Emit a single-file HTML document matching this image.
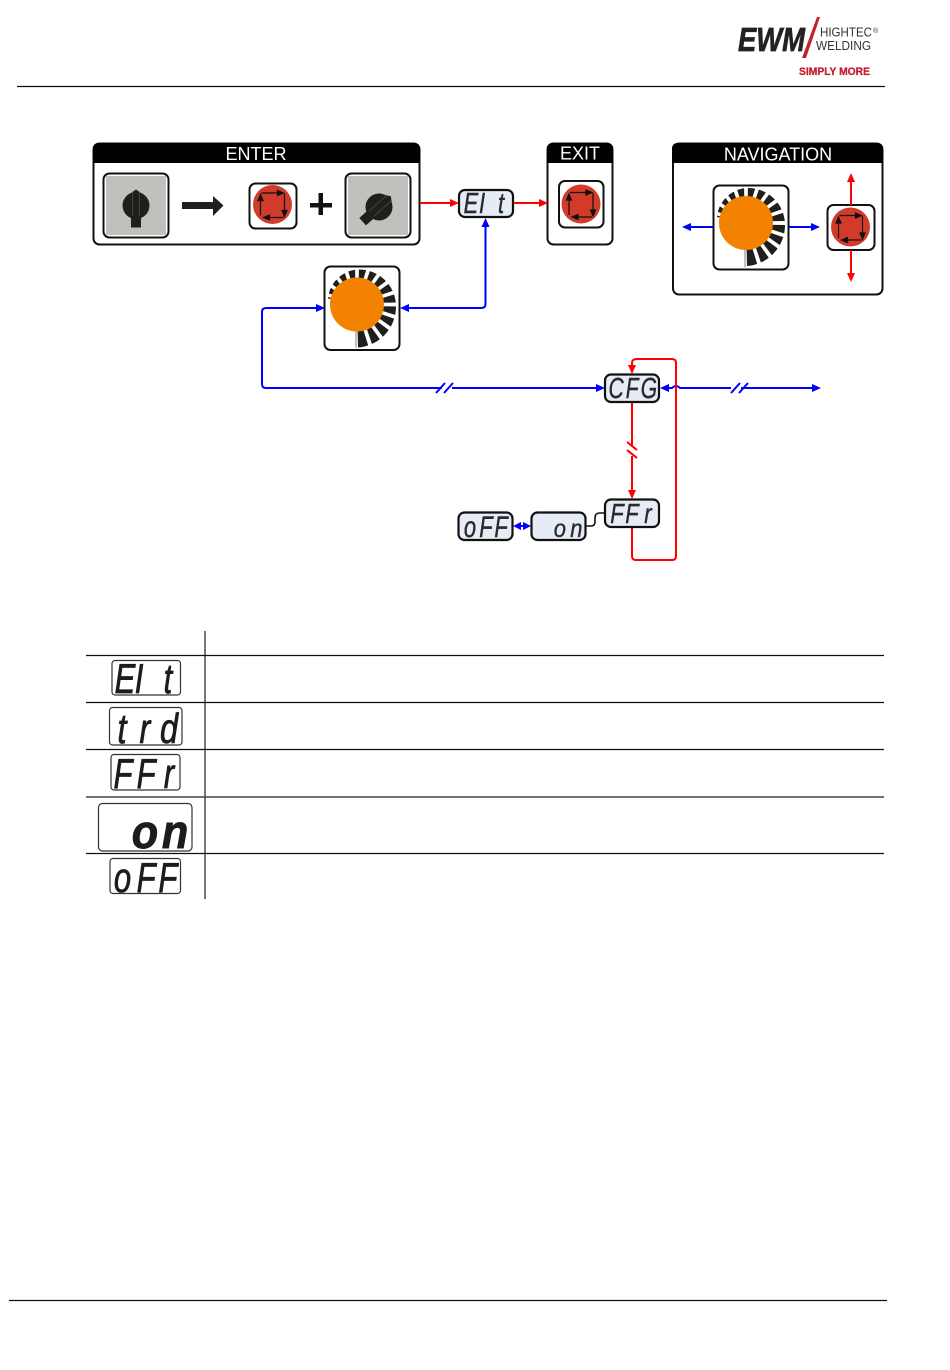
<!DOCTYPE html>
<html lang="en"><head><meta charset="utf-8"><title>Diagram</title>
<style>
html,body{margin:0;padding:0;background:#fff;width:950px;height:1370px;overflow:hidden}
svg{display:block}
text{font-family:"Liberation Sans",sans-serif}
.h{font-size:18px;fill:#fff;text-anchor:middle}
.s{font-style:italic;font-size:20px;fill:#2a2a2a;stroke:#2a2a2a;stroke-width:.3;text-anchor:middle}
.t{font-style:italic;font-size:27px;fill:#1c1c1c;stroke:#1c1c1c;stroke-width:.5;text-anchor:middle}
.d{fill:#e6ecf6;stroke:#111;stroke-width:2.2}
.k{fill:#fff;stroke:#111;stroke-width:2}
.o{fill:none;stroke:#111;stroke-width:2}
.b{fill:none;stroke:#0000ff;stroke-width:2}
.r{fill:none;stroke:#ff0000;stroke-width:2}
.bf{fill:#0000ff}.rf{fill:#ff0000}
</style></head><body>
<svg width="950" height="1370" viewBox="0 0 950 1370" xmlns="http://www.w3.org/2000/svg">
<defs>
<path id="bar" d="M20,-1.700 L50,-2.100 L50,2.100 L20,1.700Z" fill="#fff"/>
<g id="wheel">
<path d="M1,43 A41,41 0 0 0 39,2 A37,37 0 0 0 0,-35 A32,32 0 0 0 -29,-6 L0,0 Z" fill="#211f1c"/>
<use href="#bar"/>
<use href="#bar" transform="rotate(18)"/>
<use href="#bar" transform="rotate(36)"/>
<use href="#bar" transform="rotate(54)"/>
<use href="#bar" transform="rotate(72)"/>
<use href="#bar" transform="rotate(-18)"/>
<use href="#bar" transform="rotate(-36)"/>
<use href="#bar" transform="rotate(-54)"/>
<use href="#bar" transform="rotate(-72)"/>
<use href="#bar" transform="rotate(-90)"/>
<use href="#bar" transform="rotate(-108)"/>
<use href="#bar" transform="rotate(-126)"/>
<use href="#bar" transform="rotate(-144)"/>
<use href="#bar" transform="rotate(-162)"/>
<line x1="-1" y1="20" x2="-1" y2="44" stroke="#aaa" stroke-width="1.500"/>
<circle r="27" fill="#f38200"/>
</g>
<g id="btn">
<circle r="19.500" fill="#d23a2a"/>
<g stroke="#111" stroke-width="1.200" fill="#111">
<line x1="-11" y1="-11.500" x2="7" y2="-11.500"/><path d="M11,-11.500 L5,-14 L5,-9Z"/>
<line x1="12" y1="-11" x2="12" y2="7"/><path d="M12,12 L9.500,6 L14.500,6Z"/>
<line x1="11" y1="13" x2="-5" y2="13"/><path d="M-9,13 L-3,10.500 L-3,15.500Z"/>
<line x1="-12" y1="11" x2="-12" y2="-5"/><path d="M-12,-10 L-14.500,-4 L-9.500,-4Z"/>
</g>
</g>
<g id="knob">
<circle r="13.500" fill="#211f1c"/>
<path d="M-7,-11 L0,-16 L7,-11Z" fill="#211f1c"/>
<rect x="-5" y="5" width="10" height="17" fill="#211f1c"/>
<path d="M-3.500,-14 V10 M3.500,-14 V10" stroke="#55524d" stroke-width=".7" fill="none"/>
</g>
</defs>

<!-- header / footer rules -->
<line x1="17" y1="86.500" x2="885" y2="86.500" stroke="#111" stroke-width="1.200"/>
<line x1="9" y1="1300.500" x2="887" y2="1300.500" stroke="#111" stroke-width="1.200"/>

<!-- logo -->
<text x="738" y="51" font-size="33" font-weight="700" font-style="italic" fill="#222" stroke="#222" stroke-width=".7" textLength="67" lengthAdjust="spacingAndGlyphs">EWM</text>
<path d="M817,17 L820,17 L806,58 L802,58Z" fill="#c2202f"/>
<text x="820" y="36.500" font-size="12.500" fill="#333" textLength="52" lengthAdjust="spacingAndGlyphs">HIGHTEC</text>
<text x="873" y="33" font-size="7" fill="#333">®</text>
<text x="816" y="50" font-size="12.500" fill="#333" textLength="55" lengthAdjust="spacingAndGlyphs">WELDING</text>
<text x="799" y="75" font-size="11" font-weight="700" fill="#c2202f" stroke="#c2202f" stroke-width=".3" textLength="71" lengthAdjust="spacingAndGlyphs">SIMPLY MORE</text>

<!-- ENTER panel -->
<rect x="93.500" y="143.500" width="326" height="101" rx="6" fill="#fff" stroke="#111" stroke-width="2"/>
<path d="M93,163 V149 Q93,143 99,143 H414 Q420,143 420,149 V163Z" fill="#000"/>
<path d="M95,170 Q95,163 100,163 H413 Q418,163 418,170Z" fill="#fff"/>
<text class="h" x="256" y="160">ENTER</text>
<rect x="103.500" y="173.500" width="65" height="64" rx="6" class="k"/>
<rect x="106" y="176" width="60" height="59" fill="#c1c0bc"/>
<use href="#knob" x="136" y="205.500"/>
<path d="M182,202 H213 V196 L223.500,205.500 L213,216 V209 H182Z" fill="#211f1c"/>
<rect x="249.500" y="183.500" width="47" height="45" rx="6" class="k"/>
<use href="#btn" x="272.500" y="204.500"/>
<path d="M318.500,193 H323 V203 H332 V207.500 H323 V215 H318.500 V207.500 H310 V203 H318.500Z" fill="#111"/>
<rect x="345.500" y="173.500" width="65" height="64" rx="6" class="k"/>
<rect x="348" y="176" width="60" height="59" fill="#c1c0bc"/>
<g transform="translate(379,207) rotate(48)"><use href="#knob"/></g>

<!-- EXIT panel -->
<rect x="547.500" y="143.500" width="65" height="101" rx="6" fill="#fff" stroke="#111" stroke-width="2"/>
<path d="M547,163 V149 Q547,143 553,143 H607 Q613,143 613,149 V163Z" fill="#000"/>
<path d="M549,170 Q549,163 554,163 H606 Q611,163 611,170Z" fill="#fff"/>
<text class="h" x="580" y="159.500">EXIT</text>
<rect x="559" y="181" width="44.500" height="46.500" rx="6" class="k"/>
<use href="#btn" x="581" y="204"/>

<!-- NAVIGATION panel -->
<rect x="673" y="143.500" width="209.500" height="151" rx="6" fill="#fff" stroke="#111" stroke-width="2"/>
<path d="M672,163 V149 Q672,143 678,143 H877 Q883,143 883,149 V163Z" fill="#000"/>
<path d="M674,170 Q674,163 679,163 H876 Q881,163 881,170Z" fill="#fff"/>
<text class="h" x="778" y="160.500">NAVIGATION</text>
<rect x="713.500" y="185.500" width="75" height="84" rx="6" fill="#fff"/>
<use href="#wheel" x="746" y="223"/>
<rect x="713" y="185.500" width="75.500" height="84" rx="6" fill="none" stroke="#fff" stroke-width="5"/>
<rect x="713.500" y="185.500" width="75" height="84" rx="6" class="o"/>
<rect x="827.500" y="205" width="47" height="45" rx="6" class="k"/>
<use href="#btn" x="850.500" y="227"/>
<line x1="688" y1="227" x2="713" y2="227" class="b"/><path d="M682,227 L691,223 L691,231Z" class="bf"/>
<line x1="789" y1="227" x2="814" y2="227" class="b"/><path d="M820,227 L811,223 L811,231Z" class="bf"/>
<line x1="851" y1="178" x2="851" y2="205" class="r"/><path d="M851,173 L847,182 L855,182Z" class="rf"/>
<line x1="851" y1="250" x2="851" y2="276" class="r"/><path d="M851,282 L847,273 L855,273Z" class="rf"/>

<!-- standalone wheel -->
<rect x="324.500" y="266.500" width="75" height="83.500" rx="6" fill="#fff"/>
<use href="#wheel" x="357" y="304.500"/>
<rect x="324.500" y="266.500" width="75" height="83.500" rx="6" fill="none" stroke="#fff" stroke-width="5"/>
<rect x="324.500" y="266.500" width="75" height="83.500" rx="6" class="o"/>

<!-- connectors -->
<line x1="420" y1="203" x2="453" y2="203" class="r"/><path d="M459,203 L450,199 L450,207Z" class="rf"/>
<line x1="513" y1="203" x2="542" y2="203" class="r"/><path d="M548,203 L539,199 L539,207Z" class="rf"/>
<path d="M485.500,224 V304 Q485.500,308 481,308 H405" class="b"/>
<path d="M485.500,218 L481.500,227 L489.500,227Z" class="bf"/>
<path d="M400,308 L409,304 L409,312Z" class="bf"/>
<path d="M320,308 H266 Q262,308 262,312 V384 Q262,388 266,388 H442 M452,388 H600" class="b"/>
<path d="M325,308 L316,304 L316,312Z" class="bf"/>
<path d="M605,388 L596,384 L596,392Z" class="bf"/>
<path d="M436,393 L445,383 M444,393 L453,383" class="b"/>
<path d="M665,388 H672 Q676,384 680,388 H731 M741,388 H815" class="b"/>
<path d="M660,388 L669,384 L669,392Z" class="bf"/>
<path d="M821,388 L812,384 L812,392Z" class="bf"/>
<path d="M731,393 L740,383 M739,393 L748,383" class="b"/>
<path d="M632,369 V363 Q632,359 637,359 H672 Q676,359 676,363 V556 Q676,560 672,560 H636 Q632,560 632,556 V527" class="r"/>
<path d="M632,374 L628,365 L636,365Z" class="rf"/>
<path d="M632,402 V445 M632,456 V493" class="r"/>
<path d="M627,442 L637,450 M627,450 L637,458" class="r"/>
<path d="M632,499 L628,490 L636,490Z" class="rf"/>
<line x1="516" y1="526" x2="528" y2="526" class="b"/>
<path d="M513,526 L521,522 L521,530Z" class="bf"/><path d="M531,526 L523,522 L523,530Z" class="bf"/>
<path d="M585,526 H591 Q595,526 595,522 V518 Q595,513 600,513 H605" fill="none" stroke="#111" stroke-width="1.600"/>

<!-- small displays -->
<rect x="459" y="190" width="54" height="27" rx="6" class="d"/>
<text class="s" transform="translate(0,213) scale(1.100,1.450)"><tspan x="428.200">E</tspan><tspan x="438.200">I</tspan><tspan x="455.500">t</tspan></text>
<rect x="605" y="374.500" width="54" height="27.500" rx="6" class="d"/>
<text class="s" transform="translate(0,398) scale(1.050,1.450)"><tspan x="586.700">C</tspan><tspan x="602">F</tspan><tspan x="618">G</tspan></text>
<rect x="605" y="499.500" width="54" height="27.500" rx="6" class="d"/>
<text class="s" transform="translate(0,523) scale(1.100,1.400)"><tspan x="560.900">F</tspan><tspan x="574.500">F</tspan><tspan x="589">r</tspan></text>
<rect x="531.500" y="512.500" width="54" height="27.500" rx="6" class="d"/>
<text class="s" transform="translate(0,537) scale(1.100,1.250)"><tspan x="509">o</tspan><tspan x="524">n</tspan></text>
<rect x="458.500" y="512.500" width="54" height="27.500" rx="6" class="d"/>
<text class="s" transform="translate(0,537) scale(1.100,1.500)"><tspan x="427.300">o</tspan><tspan x="441.800">F</tspan><tspan x="455.500">F</tspan></text>

<!-- table -->
<line x1="205" y1="631" x2="205" y2="899" stroke="#555" stroke-width="1.600"/>
<g stroke="#111" stroke-width="1.200">
<line x1="86" y1="655.500" x2="884" y2="655.500"/>
<line x1="86" y1="702.500" x2="884" y2="702.500"/>
<line x1="86" y1="749.500" x2="884" y2="749.500"/>
<line x1="86" y1="797" x2="884" y2="797" stroke="#444" stroke-width="1.600"/>
<line x1="86" y1="853.500" x2="884" y2="853.500"/>
</g>
<g fill="#fff" stroke="#333" stroke-width="1.200">
<rect x="112" y="660.500" width="68.500" height="34.500" rx="3"/>
<rect x="109.500" y="707.500" width="72.500" height="37.500" rx="3"/>
<rect x="111" y="754.500" width="69" height="35.500" rx="3"/>
<rect x="98.500" y="803.500" width="93.500" height="47.500" rx="4"/>
<rect x="110" y="858.500" width="70.500" height="35" rx="3"/>
</g>
<text class="t" transform="translate(0,693) scale(1.150,1.550)"><tspan x="108.700">E</tspan><tspan x="120.900">I</tspan><tspan x="146">t</tspan></text>
<text class="t" transform="translate(0,743) scale(1.200,1.550)"><tspan x="101.700">t</tspan><tspan x="120.800">r</tspan><tspan x="140.800">d</tspan></text>
<text class="t" transform="translate(0,788) scale(1.150,1.550)"><tspan x="107">F</tspan><tspan x="127">F</tspan><tspan x="147">r</tspan></text>
<text class="t" font-weight="700" transform="translate(0,848) scale(1.600,1.750)"><tspan x="90.600">o</tspan><tspan x="109.400">n</tspan></text>
<text class="t" transform="translate(0,892) scale(1.150,1.550)"><tspan x="106.500">o</tspan><tspan x="127">F</tspan><tspan x="146">F</tspan></text>
</svg>
</body></html>
